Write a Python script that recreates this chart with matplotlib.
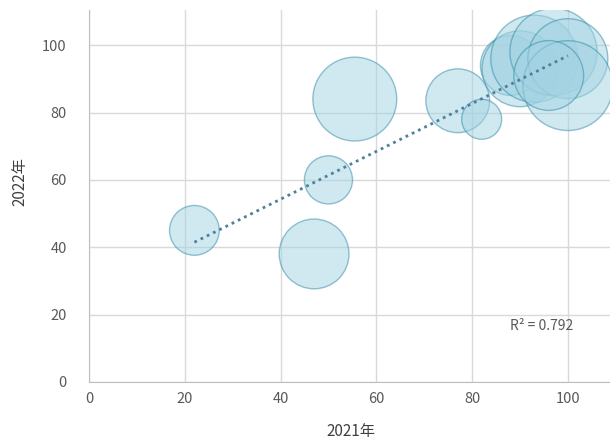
import numpy as np
import matplotlib.pyplot as plt

plt.rcParams['font.family'] = ['Noto Sans CJK SC', 'DejaVu Sans']

# 数据 (2021年, 2022年, 气泡大小)
x2021 = [22, 47, 50, 55.5, 77, 82, 88, 90, 93, 97, 100, 100, 96]
y2022 = [45, 38, 60, 84, 83.5, 78, 94, 93, 96, 98, 96, 88, 91]
bubble = [62, 122, 58, 176, 102, 40, 90, 144, 190, 190, 160, 202, 122]

xticks = [0, 20, 40, 60, 80, 100]
yticks = [0, 20, 40, 60, 80, 100]
r2_text = "R² = 0.792"

fig = plt.figure(figsize=(6.1, 4.43), dpi=100)
ax = fig.add_axes([0.146, 0.138, 0.854, 0.839])

ax.scatter(x2021, y2022, s=np.array(bubble) * 20.7, facecolor='#a3d3e3', alpha=0.5,
           edgecolor='#2f8aa5', linewidth=1.0, zorder=3)

# 线性趋势线
k, b = np.polyfit(x2021, y2022, 1)
xs = np.array([min(x2021), max(x2021)])
ax.plot(xs, k * xs + b, linestyle=(0, (1, 1.5)), color='#4f7f9a', linewidth=2, zorder=4)

ax.text(94.5, 16.6, r2_text, ha='center', va='center', fontsize=10, color='#595959')

ax.set_xlim(0, 108.8)
ax.set_ylim(0, 110.4)
ax.set_xticks(xticks)
ax.set_yticks(yticks)
ax.grid(True, color='#d9d9d9', linewidth=1)
ax.set_axisbelow(True)
ax.tick_params(length=0, labelsize=10.5, labelcolor='#595959')
ax.tick_params(axis='y', pad=16)
ax.tick_params(axis='x', pad=7)
for s in ['top', 'right']:
    ax.spines[s].set_visible(False)
for s in ['left', 'bottom']:
    ax.spines[s].set_color('#bfbfbf')

ax.set_xlabel('2021年', fontsize=11, color='#404040')
ax.set_ylabel('2022年', fontsize=11, color='#404040')
ax.xaxis.set_label_coords(0.502, -0.134)
ax.yaxis.set_label_coords(-0.132, 0.538)
ax.xaxis.label.set_va('center')
ax.yaxis.label.set_va('center')

fig.savefig('out.png', dpi=100)
